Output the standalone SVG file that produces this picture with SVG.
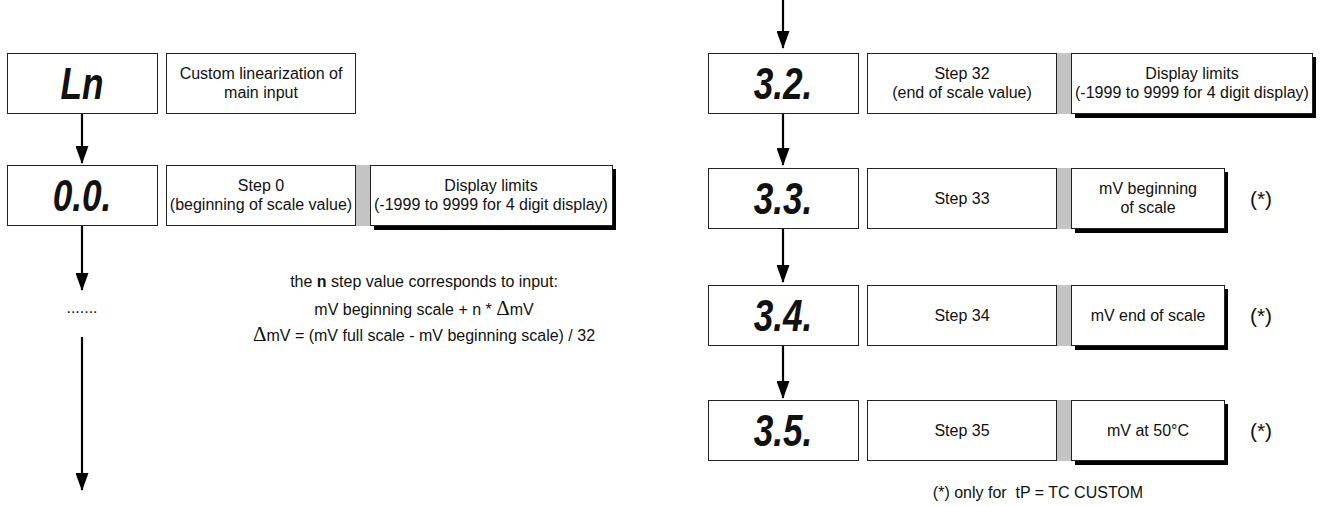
<svg xmlns="http://www.w3.org/2000/svg" width="1320" height="506" viewBox="0 0 1320 506">
<style>
.box{fill:#fff;stroke:#222;stroke-width:1}
.sh{fill:#000}
.gr{fill:#c4c4c4}
.t{font-family:"Liberation Sans",Arial,sans-serif;font-size:16px;fill:#111;text-anchor:middle}
.seg{font-family:"Liberation Sans",Arial,sans-serif;font-size:44px;font-weight:bold;font-style:italic;fill:#111;text-anchor:middle}
.ast{font-family:"Liberation Sans",Arial,sans-serif;font-size:21px;fill:#111;text-anchor:middle}
.dl{font-family:"Liberation Serif","Times New Roman",serif;font-size:21px}
.ln{stroke:#000;stroke-width:2.2;fill:none;marker-end:url(#ah)}
</style>
<defs>
<marker id="ah" viewBox="0 0 18 13" refX="17" refY="6.5" markerWidth="18" markerHeight="13" markerUnits="userSpaceOnUse" orient="auto">
<path d="M0,0 L18,6.5 L0,13 Z" fill="#000"/>
</marker>
</defs>
<g id="connectors">
<line class="ln" x1="82" y1="113" x2="82" y2="163"/>
<line class="ln" x1="82" y1="225" x2="82" y2="290"/>
<line class="ln" x1="82" y1="337" x2="82" y2="490"/>
<line class="ln" x1="783" y1="0" x2="783" y2="48"/>
<line class="ln" x1="783" y1="113" x2="783" y2="165"/>
<line class="ln" x1="783" y1="229" x2="783" y2="282"/>
<line class="ln" x1="783" y1="345" x2="783" y2="398"/>
</g>
<g id="n-Ln">
<rect class="box" x="7.5" y="53.5" width="150" height="60"/>
<text class="seg" transform="translate(82,99) scale(0.8,1)">Ln</text>
</g>
<g id="n-custom">
<rect class="box" x="166.5" y="53.5" width="189" height="60"/>
<text class="t" x="261" y="79">Custom linearization of</text>
<text class="t" x="261" y="98">main input</text>
</g>
<g id="n-00">
<rect class="box" x="7.5" y="165.5" width="150" height="60"/>
<text class="seg" transform="translate(82,211) scale(0.8,1)">0.0.</text>
</g>
<g id="n-step0">
<rect class="box" x="166.5" y="165.5" width="189" height="60"/>
<text class="t" x="261" y="191">Step 0</text>
<text class="t" x="261" y="210">(beginning of scale value)</text>
<rect class="gr" x="356" y="165" width="14" height="61"/>
</g>
<g id="n-limits0">
<rect class="sh" x="374" y="169" width="242" height="61"/>
<rect class="box" x="370.5" y="165.5" width="242" height="60"/>
<text class="t" x="491" y="191">Display limits</text>
<text class="t" x="491" y="210">(-1999 to 9999 for 4 digit display)</text>
</g>
<g id="n-dots">
<text class="t" x="82" y="313">.......</text>
</g>
<g id="n-note">
<text class="t" x="424" y="287">the <tspan font-weight="bold">n</tspan> step value corresponds to input:</text>
<text class="t" x="424" y="315">mV beginning scale + n * <tspan class="dl">Δ</tspan>mV</text>
<text class="t" x="424" y="341"><tspan class="dl">Δ</tspan>mV = (mV full scale - mV beginning scale) / 32</text>
</g>
<g id="n-32">
<rect class="box" x="708.5" y="53.5" width="150" height="60"/>
<text class="seg" transform="translate(783,99) scale(0.8,1)">3.2.</text>
</g>
<g id="n-step32">
<rect class="box" x="867.5" y="53.5" width="189" height="60"/>
<text class="t" x="962" y="79">Step 32</text>
<text class="t" x="962" y="98">(end of scale value)</text>
<rect class="gr" x="1057" y="53" width="14" height="61"/>
</g>
<g id="n-limits32">
<rect class="sh" x="1075" y="57" width="241" height="61"/>
<rect class="box" x="1071.5" y="53.5" width="241" height="60"/>
<text class="t" x="1192" y="79">Display limits</text>
<text class="t" x="1192" y="98">(-1999 to 9999 for 4 digit display)</text>
</g>
<g id="n-33">
<rect class="box" x="708.5" y="168.5" width="150" height="60"/>
<text class="seg" transform="translate(783,214) scale(0.8,1)">3.3.</text>
</g>
<g id="n-step33">
<rect class="box" x="867.5" y="168.5" width="189" height="60"/>
<text class="t" x="962" y="204">Step 33</text>
<rect class="gr" x="1057" y="168" width="14" height="61"/>
</g>
<g id="n-mv33">
<rect class="sh" x="1075" y="172" width="153" height="61"/>
<rect class="box" x="1071.5" y="168.5" width="153" height="60"/>
<text class="t" x="1148" y="194">mV beginning</text>
<text class="t" x="1148" y="213">of scale</text>
<text class="ast" x="1261" y="206">(*)</text>
</g>
<g id="n-34">
<rect class="box" x="708.5" y="285.5" width="150" height="60"/>
<text class="seg" transform="translate(783,331) scale(0.8,1)">3.4.</text>
</g>
<g id="n-step34">
<rect class="box" x="867.5" y="285.5" width="189" height="60"/>
<text class="t" x="962" y="321">Step 34</text>
<rect class="gr" x="1057" y="285" width="14" height="61"/>
</g>
<g id="n-mv34">
<rect class="sh" x="1075" y="289" width="153" height="61"/>
<rect class="box" x="1071.5" y="285.5" width="153" height="60"/>
<text class="t" x="1148" y="321">mV end of scale</text>
<text class="ast" x="1261" y="323">(*)</text>
</g>
<g id="n-35">
<rect class="box" x="708.5" y="400.5" width="150" height="60"/>
<text class="seg" transform="translate(783,446) scale(0.8,1)">3.5.</text>
</g>
<g id="n-step35">
<rect class="box" x="867.5" y="400.5" width="189" height="60"/>
<text class="t" x="962" y="436">Step 35</text>
<rect class="gr" x="1057" y="400" width="14" height="61"/>
</g>
<g id="n-mv35">
<rect class="sh" x="1075" y="404" width="153" height="61"/>
<rect class="box" x="1071.5" y="400.5" width="153" height="60"/>
<text class="t" x="1148" y="436">mV at 50°C</text>
<text class="ast" x="1261" y="438">(*)</text>
</g>
<g id="n-footnote">
<text class="t" x="1038" y="498">(*) only for &#160;tP = TC CUSTOM</text>
</g>
</svg>
